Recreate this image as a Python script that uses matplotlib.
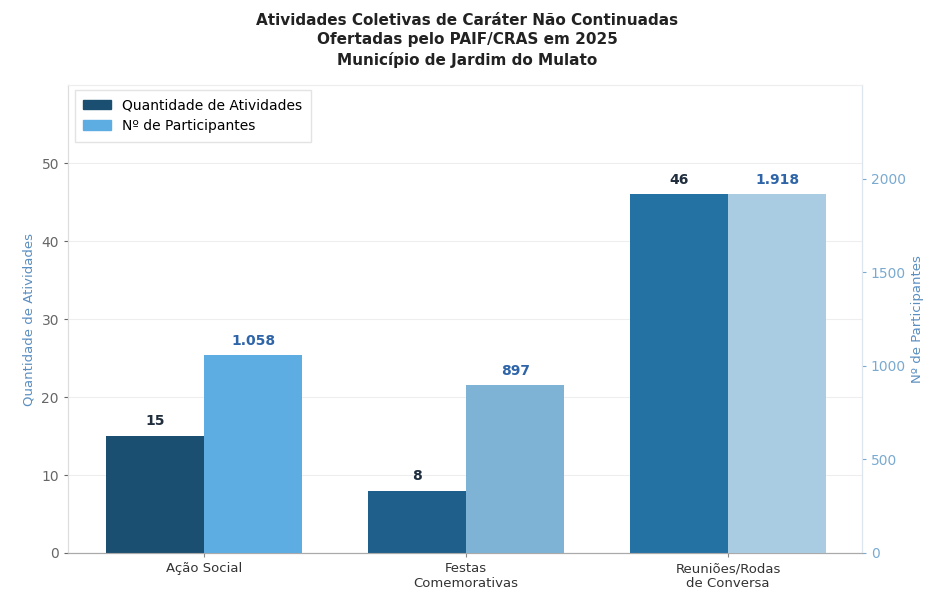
import matplotlib
matplotlib.use("Agg")
import matplotlib.pyplot as plt
import numpy as np
from matplotlib.patches import Patch

categories = ["Ação Social", "Festas\nComemorativas", "Reuniões/Rodas\nde Conversa"]
atividades = [15, 8, 46]
participantes = [1058, 897, 1918]
atividades_labels = ["15", "8", "46"]
participantes_labels = ["1.058", "897", "1.918"]

dark_colors = ["#1b4f72", "#1f5f8b", "#2471a3"]
light_colors = ["#5dade2", "#7fb3d5", "#a9cce3"]

fig = plt.figure(figsize=(9.35, 5.92), dpi=100)
ax = fig.add_axes([0.0727, 0.0659, 0.849, 0.79])
ax2 = ax.twinx()

x = np.arange(len(categories))
w = 0.375
b1 = ax.bar(x - w / 2, atividades, w, color=dark_colors, zorder=3)
b2 = ax2.bar(x + w / 2, participantes, w, color=light_colors, zorder=3)

ax.set_ylim(0, 60)
ax2.set_ylim(0, 2500)
ax.set_xlim(-0.52, 2.51)
ax.set_yticks([0, 10, 20, 30, 40, 50])
ax2.set_yticks([0, 500, 1000, 1500, 2000])
ax.set_xticks(x)
ax.set_xticklabels(categories, fontsize=9.5, color="#333333")

ax.grid(axis="y", color="#eeeeee", linewidth=0.8, zorder=0)
ax.set_axisbelow(True)

ax.tick_params(axis="y", colors="#666666", labelsize=10, length=3)
ax.tick_params(axis="x", colors="#888888", length=3)
for lbl in ax.get_xticklabels():
    lbl.set_color("#333333")
ax2.tick_params(axis="y", colors="#7aaad0", labelsize=10, length=3)

ax.set_ylabel("Quantidade de Atividades", color="#5b8fc0", fontsize=9.5)
ax2.set_ylabel("Nº de Participantes", color="#5b8fc0", fontsize=9.5)

for a in (ax, ax2):
    a.spines["top"].set_color("#eeeeee")
    a.spines["left"].set_color("#dddddd")
    a.spines["right"].set_color("#dde6ee")
    a.spines["bottom"].set_color("#aaaaaa")

for i, r in enumerate(b1):
    ax.text(r.get_x() + r.get_width() / 2, atividades[i] + 1.0, atividades_labels[i],
            ha="center", va="bottom", fontsize=10, fontweight="bold", color="#1f2d3d")
for i, r in enumerate(b2):
    ax2.text(r.get_x() + r.get_width() / 2, participantes[i] + 40, participantes_labels[i],
             ha="center", va="bottom", fontsize=10, fontweight="bold", color="#2e64a8")

handles = [Patch(color="#1b4f72", label="Quantidade de Atividades"),
           Patch(color="#5dade2", label="Nº de Participantes")]
ax.legend(handles=handles, loc="upper left", fontsize=10, frameon=True,
          edgecolor="#dddddd", fancybox=False, borderpad=0.6,
          bbox_to_anchor=(0.0, 1.005))

fig.suptitle("Atividades Coletivas de Caráter Não Continuadas\nOfertadas pelo PAIF/CRAS em 2025\nMunicípio de Jardim do Mulato",
             fontsize=11, fontweight="bold", color="#222222", y=0.978, linespacing=1.35)

fig.savefig("out.png", dpi=100)
